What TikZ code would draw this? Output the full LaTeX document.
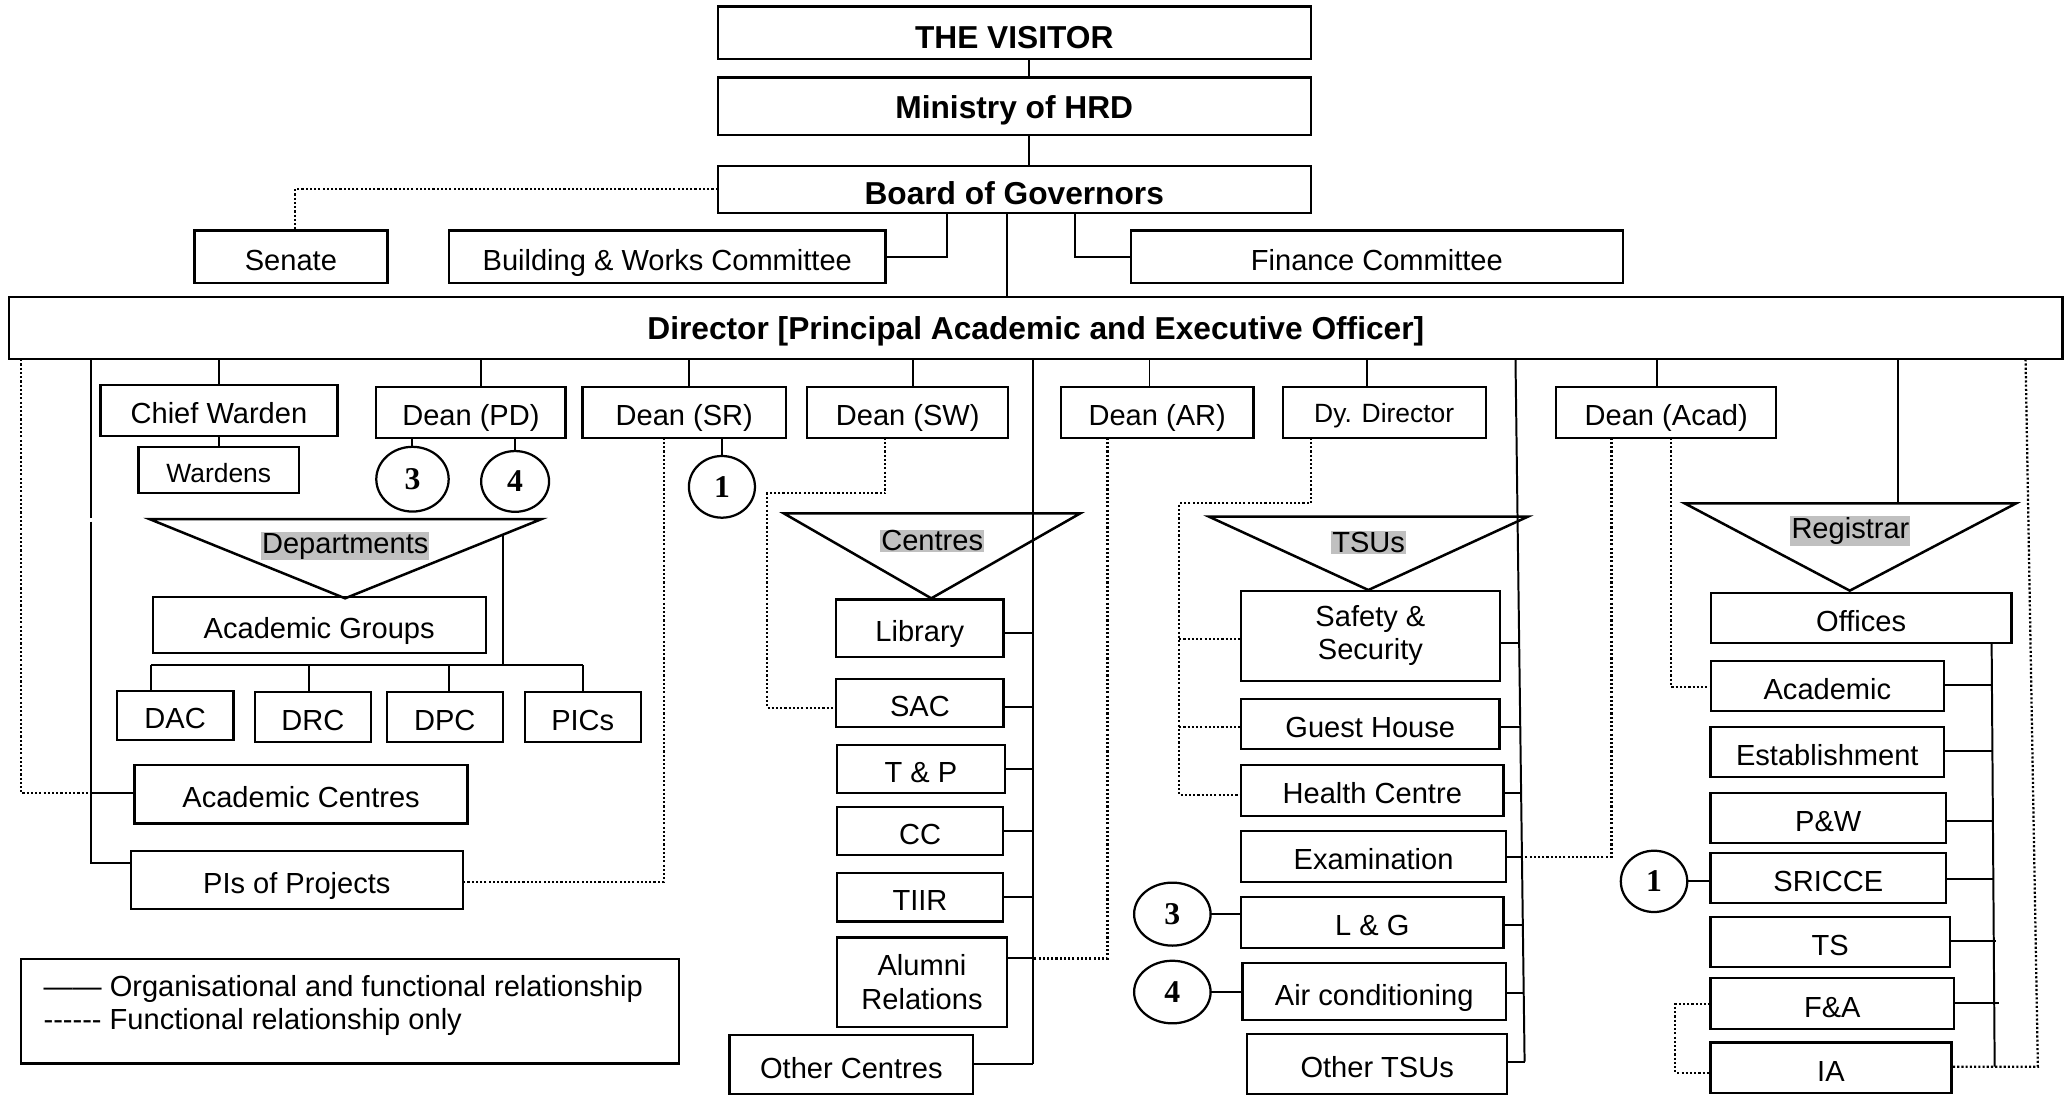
\documentclass[tikz,border=0pt]{standalone}
\usepackage{fontspec}
\setmainfont{Liberation Sans}
\newfontfamily\numfont{Liberation Serif}
\usetikzlibrary{shapes.geometric}
\definecolor{hlgray}{HTML}{C0C0C0}
\newcommand\mkbox[7][]{\node[box,#1,minimum width={(#5-#3)*0.5pt},minimum height={(#6-#4)*0.5pt}] (#2) at ({(#3+#5)/2},{(#4+#6)/2}) {#7};}
\begin{document}
\begin{tikzpicture}[x=0.5pt,y=-0.5pt,
 box/.style={draw,line width=0.85pt,inner sep=0pt,outer sep=0pt,align=center,text height=12.3pt,text depth=2pt,font=\fontsize{11}{12.6}\selectfont},
 bold/.style={font=\fontsize{12}{14}\selectfont\bfseries},
 small/.style={font=\fontsize{10}{12}\selectfont},
 twoline/.style={text height={},text depth={}},
 conn/.style={line width=0.75pt},
 fnl/.style={line width=0.85pt,dash pattern=on 0.8pt off 0.8pt},
 tri/.style={draw,line width=0.95pt,line join=miter},
 circ/.style={draw,ellipse,line width=0.85pt,inner sep=0pt,outer sep=0pt,font=\fontsize{12}{14}\selectfont\numfont\bfseries},
 hl/.style={fill=hlgray,inner xsep=0.4pt,inner ysep=0.4pt,font=\fontsize{11}{13}\selectfont},
 legtext/.style={anchor=west,inner sep=0pt,font=\fontsize{11}{13}\selectfont}]
\useasboundingbox (0,0) rectangle (1568,830);

% ---------- top ----------
\mkbox[bold,text height=13.6pt]{visitor}{543.4}{5}{992.4}{44.9}{THE VISITOR}
\mkbox[bold,text height=11.2pt]{ministry}{543.4}{58.6}{992.4}{102.2}{Ministry of HRD}
\mkbox[bold,text height=13.4pt]{board}{543.4}{125.4}{992.4}{161}{Board of Governors}
\mkbox{senate}{147.2}{174.6}{293.3}{214.5}{Senate}
\mkbox{bw}{340}{174.6}{670.4}{214.5}{Building \& Works Committee}
\mkbox{finance}{856.2}{174.6}{1228.7}{214.5}{Finance Committee}
\mkbox[bold,text height=10.6pt]{director}{7}{224.6}{1561.5}{272}{Director [Principal Academic and Executive Officer]}

% ---------- second row ----------
\mkbox{chiefw}{76}{291.5}{255.5}{329.9}{Chief Warden}
\mkbox[small,text height=11.2pt]{wardens}{104.8}{338.2}{226.5}{373.5}{Wardens}
\mkbox{deanpd}{284.9}{292.8}{428.2}{331.4}{Dean (PD)}
\mkbox{deansr}{441.1}{292.8}{595}{331.4}{Dean (SR)}
\mkbox{deansw}{611.2}{292.8}{763.3}{331.4}{Dean (SW)}
\mkbox{deanar}{803.2}{292.8}{949.1}{331.4}{Dean (AR)}
\mkbox[small,text height=10.1pt]{dydir}{971.2}{292.8}{1124.8}{331.4}{Dy. Director}
\mkbox{deanacad}{1178.3}{292.8}{1344.8}{331.4}{Dean (Acad)}

% ---------- departments ----------
\mkbox{acadgroups}{115.6}{451.8}{367.7}{494.6}{Academic Groups}
\mkbox{dac}{88.4}{522.9}{176.8}{560.3}{DAC}
\mkbox{drc}{192.9}{524.2}{280.7}{561.5}{DRC}
\mkbox{dpc}{292.8}{524.2}{380.7}{561.5}{DPC}
\mkbox{pics}{397.3}{524.2}{485.1}{561.5}{PICs}
\mkbox{acadcentres}{101.9}{579.2}{354}{623.4}{Academic Centres}
\mkbox{pis}{98.9}{644.3}{350.5}{688.5}{PIs of Projects}

% ---------- centres ----------
\mkbox{library}{633.1}{453.8}{759.8}{497.2}{Library}
\mkbox{sac}{633.1}{514.3}{759.8}{550.6}{SAC}
\mkbox{tp}{633.8}{564}{760.8}{600.6}{T \& P}
\mkbox{cc}{633.8}{611.2}{759.3}{647.6}{CC}
\mkbox{tiir}{633.8}{661.2}{759.3}{697.6}{TIIR}
\mkbox[twoline]{alumni}{633.8}{709.7}{762.3}{777.3}{Alumni\\Relations}
\mkbox{othercentres}{552.4}{783.6}{736.7}{828.5}{Other Centres}

% ---------- TSUs ----------
\mkbox[twoline]{safety}{939.7}{447.2}{1135.4}{515.6}{Safety \&\\Security}
\mkbox{guest}{939.7}{529.5}{1135.2}{567.3}{Guest House}
\mkbox{health}{939.7}{579.2}{1138.3}{617.6}{Health Centre}
\mkbox{exam}{939.7}{629.2}{1140.2}{667.5}{Examination}
\mkbox{lg}{939.7}{678.9}{1138.3}{717.5}{L \& G}
\mkbox{aircon}{940.7}{728.9}{1140.2}{772.3}{Air conditioning}
\mkbox{othertsu}{944.2}{783.1}{1141.2}{828.5}{Other TSUs}

% ---------- registrar offices ----------
\mkbox{offices}{1295.3}{448.7}{1522.9}{487.1}{Offices}
\mkbox{academic}{1295.3}{500.5}{1471.8}{538.1}{Academic}
\mkbox{establishment}{1295}{550.2}{1472}{588.5}{Establishment}
\mkbox{pw}{1295}{600.6}{1473.5}{638.5}{P\&W}
\mkbox{sricce}{1295}{646.1}{1473.5}{683.9}{SRICCE}
\mkbox{ts}{1295}{694}{1476.5}{732.4}{TS}
\mkbox{fa}{1295}{740.7}{1479.6}{779.3}{F\&A}
\mkbox{ia}{1295}{789.2}{1477.5}{827.8}{IA}

% ---------- circles ----------
\node[circ,minimum width=27.4pt,minimum height=24.5pt] (c3a) at (312.3,362.8) {3};
\node[circ,minimum width=25.7pt,minimum height=23pt] (c4a) at (390,364.5) {4};
\node[circ,minimum width=25pt,minimum height=23.35pt] (c1a) at (546.6,368.6) {1};
\node[circ,minimum width=28.95pt,minimum height=23.85pt] (c3b) at (887.6,692.1) {3};
\node[circ,minimum width=28.95pt,minimum height=23.7pt] (c4b) at (887.6,751.1) {4};
\node[circ,minimum width=25.15pt,minimum height=23.2pt] (c1b) at (1252.3,667.3) {1};

% ---------- triangles ----------
\coordinate (dtA) at (113.2,393); \coordinate (dtB) at (410,393); \coordinate (dtC) at (261.3,453);
\coordinate (ctA) at (593.3,388.6); \coordinate (ctB) at (818,388.6); \coordinate (ctC) at (705.1,453);
\coordinate (ttA) at (915.4,391.2); \coordinate (ttB) at (1156.7,391.2); \coordinate (ttC) at (1036,446.7);
\coordinate (rtA) at (1275.5,381.1); \coordinate (rtB) at (1526.4,381.1); \coordinate (rtC) at (1400.5,447.2);
\draw[tri] (dtA) -- (dtB) -- (dtC) -- cycle;
\draw[tri] (ctA) -- (ctB) -- (ctC) -- cycle;
\draw[tri] (ttA) -- (ttB) -- (ttC) -- cycle;
\draw[tri] (rtA) -- (rtB) -- (rtC) -- cycle;
\node[hl] (deptlbl) at (261.4,413.5) {Departments};
\node[hl] (centlbl) at (705.8,409.5) {Centres};
\node[hl] (tsulbl) at (1036.2,410.5) {TSUs};
\node[hl] (reglbl) at (1401,402) {Registrar};

% ---------- legend ----------
\mkbox{legend}{16.1}{725.8}{514.3}{805.1}{}
\node[legtext] (legA) at (32.6,749) {——\ Organisational and functional relationship};
\node[legtext] (legB) at (32.6,773.5) {-\kern0pt-\kern0pt-\kern0pt-\kern0pt-\kern0pt-\ Functional relationship only};

% ---------- connectors: top ----------
\draw[conn] (779.4,0 |- visitor.south) -- (779.4,0 |- ministry.north);
\draw[conn] (779.4,0 |- ministry.south) -- (779.4,0 |- board.north);
\draw[fnl] (board.west) -- (board.west -| 223.5,0) -- (223.5,0 |- senate.north);
\draw[conn] (717.2,0 |- board.south) -- (717.2,0 |- bw.east) -- (bw.east);
\draw[conn] (814,0 |- board.south) -- (814,0 |- finance.west) -- (finance.west);
\draw[conn] (762.3,0 |- board.south) -- (762.3,0 |- director.north);

% ---------- connectors: left part ----------
\draw[fnl] (16,0 |- director.south) -- (16,600.6) -- (68.8,600.6);
\draw[conn] (68.8,0 |- director.south) -- (68.8,392.4);
\draw[conn] (68.8,395) -- (68.8,653.6) -- (pis.west |- 0,653.6);
\draw[conn] (68.8,600.6) -- (acadcentres.west |- 0,600.6);
\draw[conn] (chiefw.north |- director.south) -- (chiefw.north);
\draw[conn] (chiefw.south) -- (chiefw.south |- wardens.north);
\draw[conn] (364.1,0 |- director.south) -- (364.1,0 |- deanpd.north);
\draw[conn] (c3a.north |- deanpd.south) -- (c3a.north);
\draw[conn] (c4a.north |- deanpd.south) -- (c4a.north);
\draw[conn] (380.9,404.7) -- (380.9,503.5);
\draw[conn] (114.2,503.5) -- (441.1,503.5);
\draw[conn] (114.2,503.5) -- (114.2,0 |- dac.north);
\draw[conn] (233.9,503.5) -- (233.9,0 |- drc.north);
\draw[conn] (339.7,503.5) -- (339.7,0 |- dpc.north);
\draw[conn] (441.1,503.5) -- (441.1,0 |- pics.north);

% ---------- Dean SR / SW / centres ----------
\draw[conn] (521.3,0 |- director.south) -- (521.3,0 |- deansr.north);
\draw[conn] (c1a.north |- deansr.south) -- (c1a.north);
\draw[fnl] (502.6,0 |- deansr.south) -- (502.6,667.5) -- (pis.east |- 0,667.5);
\draw[conn] (691.5,0 |- director.south) -- (691.5,0 |- deansw.north);
\draw[fnl] (670.3,0 |- deansw.south) -- (670.3,373.5) -- (580.7,373.5) -- (580.7,535.8) -- (sac.west |- 0,535.8);
\draw[conn] (782,0 |- director.south) -- (782,805.8);
\draw[conn] (library.east |- 0,479.5) -- (782,479.5);
\draw[conn] (sac.east |- 0,535) -- (782,535);
\draw[conn] (tp.east |- 0,582.5) -- (782,582.5);
\draw[conn] (cc.east |- 0,629.2) -- (782,629.2);
\draw[conn] (tiir.east |- 0,679.4) -- (782,679.4);
\draw[conn] (alumni.east |- 0,725.6) -- (782,725.6);
\draw[conn] (othercentres.east |- 0,805.8) -- (782,805.8);

% ---------- Dean AR / Dy Director / TSUs ----------
\draw[conn] (870.3,0 |- director.south) -- (870.3,0 |- deanar.north);
\draw[fnl] (838.5,0 |- deanar.south) -- (838.5,725.6) -- (782,725.6);
\draw[conn] (1035.2,0 |- director.south) -- (1035.2,0 |- dydir.north);
\draw[fnl] (992.4,0 |- dydir.south) -- (992.4,381.1) -- (892.8,381.1) -- (892.8,602) -- (health.west |- 0,602);
\draw[fnl] (892.8,483.8) -- (safety.west |- 0,483.8);
\draw[fnl] (892.8,550.2) -- (guest.west |- 0,550.2);
\draw[conn] (1147.4,0 |- director.south) -- (1154.3,803.8);
\draw[conn] (safety.east |- 0,486.6) -- (1150.2,486.6);
\draw[conn] (guest.east |- 0,550.2) -- (1151,550.2);
\draw[conn] (health.east |- 0,600.2) -- (1151.7,600.2);
\draw[conn] (exam.east |- 0,648.6) -- (1152.3,648.6);
\draw[conn] (lg.east |- 0,700.6) -- (1153,700.6);
\draw[conn] (aircon.east |- 0,752.1) -- (1153.6,752.1);
\draw[conn] (othertsu.east |- 0,803.8) -- (1154.3,803.8);
\draw[conn] (c3b.east) -- (c3b.east -| lg.west);
\draw[conn] (c4b.east) -- (c4b.east -| aircon.west);

% ---------- Dean Acad / Registrar ----------
\draw[conn] (1254.6,0 |- director.south) -- (1254.6,0 |- deanacad.north);
\draw[fnl] (1220,0 |- deanacad.south) -- (1220,648.6) -- (1152.3,648.6);
\draw[fnl] (1265.2,0 |- deanacad.south) -- (1265.2,519.9) -- (academic.west |- 0,519.9);
\draw[conn] (1436.8,0 |- director.south) -- (1436.8,0 |- rtA);
\draw[fnl] (1533.6,0 |- director.south) -- (1542.9,807.6) -- (ia.east |- 0,807.6);
\draw[conn] (1507.9,0 |- offices.south) -- (1510.2,807.6);
\draw[conn] (academic.east |- 0,518.6) -- (1508.1,518.6);
\draw[conn] (establishment.east |- 0,568.3) -- (1508.5,568.3);
\draw[conn] (pw.east |- 0,621.6) -- (1508.9,621.6);
\draw[conn] (sricce.east |- 0,665.8) -- (1509.2,665.8);
\draw[conn] (ts.east |- 0,712.2) -- (1511.2,712.2);
\draw[conn] (fa.east |- 0,759.7) -- (1513.7,759.7);
\draw[conn] (c1b.east) -- (c1b.east -| sricce.west);
\draw[fnl] (fa.west |- 0,760.2) -- (1268.4,760.2) -- (1268.4,812.1) -- (ia.west |- 0,812.1);
\end{tikzpicture}
\end{document}
